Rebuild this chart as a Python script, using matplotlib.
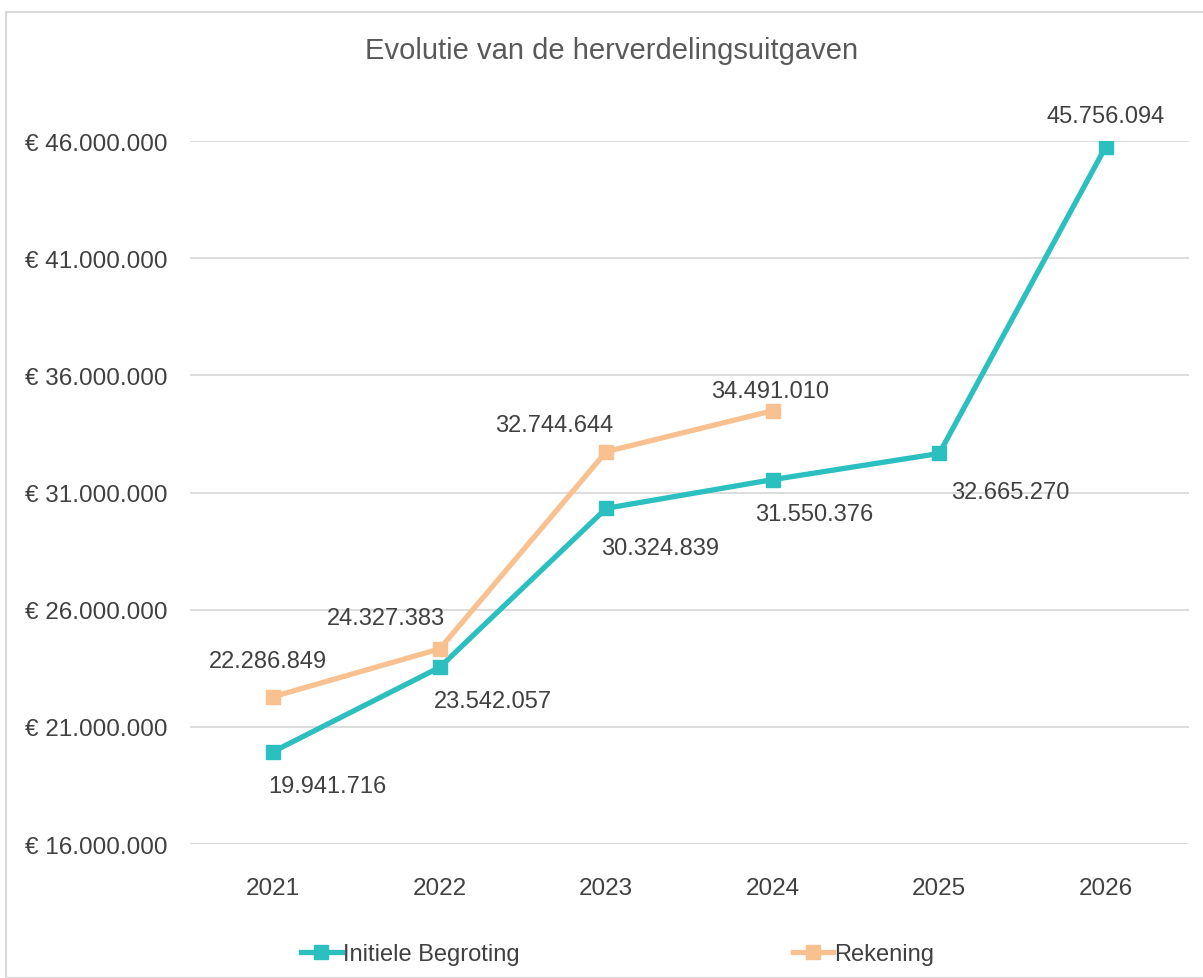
import matplotlib
matplotlib.use("Agg")
import matplotlib.pyplot as plt
from matplotlib.patches import Rectangle
from matplotlib.ticker import FuncFormatter

years = ["2021", "2022", "2023", "2024", "2025", "2026"]
initiele = [19941716, 23542057, 30324839, 31550376, 32665270, 45756094]
rekening = [22286849, 24327383, 32744644, 34491010]
yticks = [16000000, 21000000, 26000000, 31000000, 36000000, 41000000, 46000000]

TEAL = "#2BBFBF"
ORANGE = "#F9C18F"
TXT = "#404040"
GRID = "#D9D9D9"

plt.rcParams['font.family'] = ['Liberation Sans', 'DejaVu Sans']

fig = plt.figure(figsize=(12.03, 9.79), dpi=100)
fig.patches.append(Rectangle((6/1203, 0), 1.2, 1 - 13/979, transform=fig.transFigure,
                             fill=False, edgecolor=GRID, linewidth=1.5, zorder=0))

ax = fig.add_axes([190/1203, 1 - 845/979, (1189 - 190)/1203, (845 - 142)/979])
x = list(range(len(years)))
ax.plot(x, initiele, color=TEAL, lw=3.8, marker="s", ms=10, label="Initiele Begroting", zorder=3)
ax.plot(x[:len(rekening)], rekening, color=ORANGE, lw=3.8, marker="s", ms=10, label="Rekening", zorder=3)

ax.set_xlim(-0.5, len(years) - 0.5)
ax.set_ylim(yticks[0], yticks[-1])
ax.set_yticks(yticks)
ax.set_xticks(x)
ax.set_xticklabels(years)
ax.yaxis.set_major_formatter(FuncFormatter(lambda v, p: "€ " + f"{int(v):,}".replace(",", ".")))
ax.tick_params(axis="both", length=0, labelsize=17.5, labelcolor=TXT)
ax.tick_params(axis="y", pad=16.5)
ax.tick_params(axis="x", pad=24)
ax.grid(axis="y", color=GRID, lw=1.3)
ax.set_axisbelow(True)
for s in ax.spines.values():
    s.set_visible(False)

def fmt(v):
    return f"{v:,}".replace(",", ".")

ini_off = [(54, -34), (53, -34), (54, -40), (41, -34), (71, -39), (0, 31)]
rek_off = [(-5, 36), (-54, 31), (-52, 27), (-3, 20)]
for i, v in enumerate(initiele):
    ax.annotate(fmt(v), (x[i], v), xytext=ini_off[i], textcoords="offset pixels",
                ha="center", va="center", fontsize=17, color=TXT, annotation_clip=False)
for i, v in enumerate(rekening):
    ax.annotate(fmt(v), (x[i], v), xytext=rek_off[i], textcoords="offset pixels",
                ha="center", va="center", fontsize=17, color=TXT, annotation_clip=False)

fig.text(612/1203, 1 - 51/979, "Evolutie van de herverdelingsuitgaven", ha="center", va="center",
         fontsize=21, color="#595959")

fig.legend(loc="center", bbox_to_anchor=(618/1203, 1 - 955/979), ncol=2, frameon=False,
           fontsize=17, labelcolor=TXT, handlelength=1.7, handletextpad=0.05, columnspacing=11.6)

fig.savefig("out.png", dpi=100)
